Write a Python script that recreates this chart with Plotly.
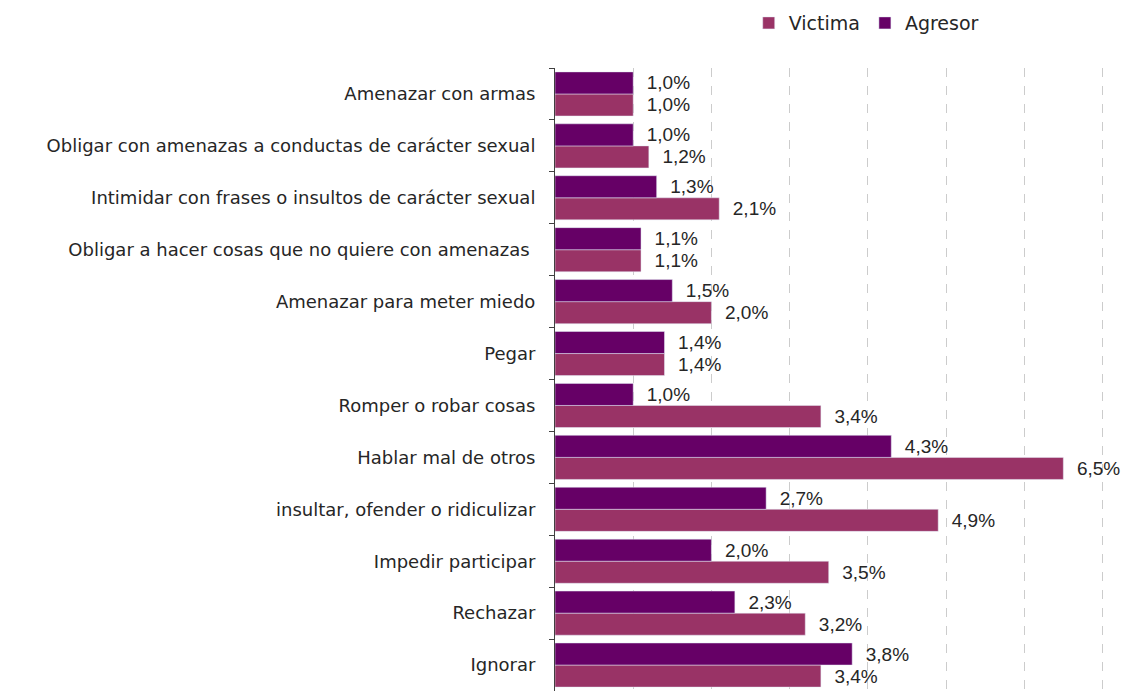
import plotly.graph_objects as go

categorias = [
    'Amenazar con armas',
    'Obligar con amenazas a conductas de carácter sexual',
    'Intimidar con frases o insultos de carácter sexual',
    'Obligar a hacer cosas que no quiere con amenazas ',
    'Amenazar para meter miedo',
    'Pegar',
    'Romper o robar cosas',
    'Hablar mal de otros',
    'insultar, ofender o ridiculizar',
    'Impedir participar',
    'Rechazar',
    'Ignorar',
]
victima = [1.0, 1.2, 2.1, 1.1, 2.0, 1.4, 3.4, 6.5, 4.9, 3.5, 3.2, 3.4]
agresor = [1.0, 1.0, 1.3, 1.1, 1.5, 1.4, 1.0, 4.3, 2.7, 2.0, 2.3, 3.8]

# plotly puts the first category at the bottom, so feed them reversed
cats = categorias[::-1]
vic = victima[::-1]
agr = agresor[::-1]

def etiqueta(v):
    return '  ' + f'{v:.1f}'.replace('.', ',') + '%'

valfont = dict(family='Liberation Sans, Arial', size=19, color='#262626')

fig = go.Figure()
fig.add_trace(go.Bar(
    y=cats, x=vic, orientation='h', name='Victima',
    marker_color='#993366',
    text=[etiqueta(v) for v in vic], textposition='outside',
    textfont=valfont, cliponaxis=False,
))
fig.add_trace(go.Bar(
    y=cats, x=agr, orientation='h', name='Agresor',
    marker_color='#660066',
    text=[etiqueta(v) for v in agr], textposition='outside',
    textfont=valfont, cliponaxis=False,
))

# page body has an 8px margin, so the figure is a bit smaller than the window
fig.update_layout(
    width=1128, height=683,
    margin=dict(l=547, r=32, t=60, b=0, autoexpand=False),
    barmode='group', bargap=0.15, bargroupgap=0,
    plot_bgcolor='white', paper_bgcolor='white',
    font=dict(family='DejaVu Sans', size=18, color='#262626'),
    legend=dict(orientation='h', xref='container', yref='container',
                x=0.865, xanchor='right', y=0.978, yanchor='middle',
                font=dict(size=19), itemwidth=30),
    uniformtext=dict(mode=False),
)
fig.update_xaxes(
    range=[0, 7.02], dtick=1, showticklabels=False,
    showgrid=True, gridcolor='#cccccc', griddash='dash', gridwidth=1,
    zeroline=False, fixedrange=True, automargin=False,
)
fig.update_yaxes(
    showline=True, linecolor='#404040', linewidth=1,
    ticks='outside', tickson='boundaries', ticklen=5, tickcolor='#404040',
    ticklabelstandoff=15, tickfont=dict(size=18, color='#262626'),
    showgrid=False, fixedrange=True, automargin=False,
)

fig.write_html('out.html')
